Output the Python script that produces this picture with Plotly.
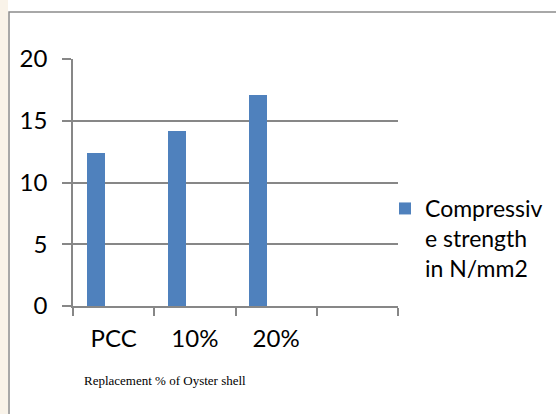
import plotly.graph_objects as go

# Compressive strength by oyster-shell replacement level
categories = ["PCC", "10%", "20%", " "]
strength = [12.4, 14.2, 17.1, None]
series_name = "Compressiv<br>e strength<br>in N/mm2"
x_title = "Replacement % of Oyster shell"
y_ticks = [0, 5, 10, 15, 20]

W, H = 556, 414
L, R, T, B = 73, 158, 59, 108
PW, PH = W - L - R, H - T - B

def px_x(p):
    return (p - L) / PW

def px_y(p):
    return (H - B - p) / PH

grid = "#878787"
blue = "#4f81bd"
tick_font = dict(family="Lato, Noto Sans, sans-serif", size=24, color="#000000")
legend_font = dict(family="Lato, Noto Sans, sans-serif", size=23, color="#000000")

fig = go.Figure()
fig.add_trace(go.Bar(
    x=categories, y=strength, name=series_name,
    marker=dict(color=blue, line=dict(width=0)),
    width=1 / 4.5, offset=-1.5 / 4.5,
    showlegend=True,
))

fig.update_layout(
    width=W, height=H,
    margin=dict(l=L, r=R, t=T, b=B, autoexpand=False),
    paper_bgcolor="white", plot_bgcolor="white",
    bargap=0,
    showlegend=True,
    legend=dict(
        x=px_x(385), y=px_y(187), xanchor="left", yanchor="top",
        valign="top", font=legend_font, bgcolor="rgba(0,0,0,0)",
        borderwidth=0,
    ),
    xaxis=dict(
        type="category", range=[-0.5, 3.5],
        showgrid=False, zeroline=False,
        showline=True, linecolor=grid, linewidth=1.5,
        ticks="outside", tickson="boundaries", ticklen=8,
        tickcolor=grid, tickwidth=1.5,
        tickfont=tick_font, ticklabelstandoff=10,
        fixedrange=True,
    ),
    yaxis=dict(
        range=[0, 20], tickvals=y_ticks,
        showgrid=True, gridcolor=grid, gridwidth=1.5,
        zeroline=False,
        showline=True, linecolor=grid, linewidth=1.5,
        ticks="outside", ticklen=9, tickcolor=grid, tickwidth=1.5,
        tickfont=tick_font, ticklabelstandoff=10,
        fixedrange=True,
    ),
    shapes=[
        # beige page edge on the far left
        dict(type="rect", xref="paper", yref="paper",
             x0=px_x(0), x1=px_x(8), y0=px_y(H + 5), y1=px_y(-5),
             fillcolor="#f9f3e9", line=dict(width=0), layer="below"),
        # chart-area frame
        dict(type="rect", xref="paper", yref="paper",
             x0=px_x(9), x1=px_x(W + 20), y0=px_y(H + 20), y1=px_y(12),
             line=dict(color="#8c8c8c", width=1.5), fillcolor="rgba(0,0,0,0)",
             layer="below"),
    ],
    annotations=[
        dict(text=x_title, xref="paper", yref="paper",
             x=px_x(165), y=px_y(380), xanchor="center", yanchor="middle",
             showarrow=False,
             font=dict(family="Liberation Serif, Times New Roman, serif",
                       size=13, color="#000000")),
    ],
)

fig.write_html("out.html")
